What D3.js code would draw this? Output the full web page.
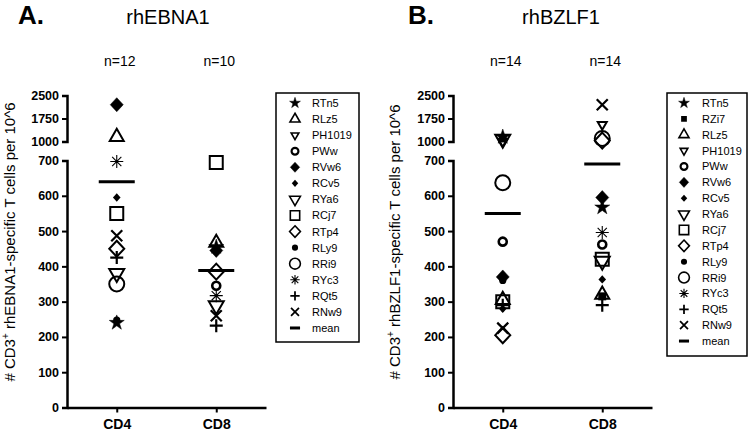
<!DOCTYPE html>
<html><head><meta charset="utf-8">
<script src="https://cdn.jsdelivr.net/npm/d3@7"></script>
<style>body{margin:0;background:#fff}svg{display:block;font-family:Arial,"Liberation Sans",sans-serif}</style>
</head><body><svg id="c" width="750" height="432"></svg>
<script>
// ---------- data ----------
const categories = ["CD4", "CD8"];
const subjectsA = ["RTn5","RLz5","PH1019","PWw","RVw6","RCv5","RYa6","RCj7","RTp4","RLy9","RRi9","RYc3","RQt5","RNw9"];
const subjectsB = ["RTn5","RZi7","RLz5","PH1019","PWw","RVw6","RCv5","RYa6","RCj7","RTp4","RLy9","RRi9","RYc3","RQt5","RNw9"];
// rhEBNA1 (aligned with subjectsA)
const ebnaCD4 = [240, 1150, null, null, 2200, 595, 380, 550, 450, 248, 350, 697, 425, 487];
const ebnaCD8 = [455, 467, null, 345, 445, null, 289, 694, 385, null, null, 317, 232, 260];
const ebnaMean = [640, 388];
const ebnaN = ["n=12", "n=10"];
// rhBZLF1 (aligned with subjectsB)
const bzlfCD4 = [1150, 1100, 305, 1000, 470, 370, 280, 1080, 300, 205, 360, 637, null, 290, 225];
const bzlfCD8 = [567, 315, 320, 1550, 462, 595, 363, 415, 420, 1030, null, 1100, 496, 290, 2200];
const bzlfMean = [550, 690];
const bzlfN = ["n=14", "n=14"];
const lowTicks = [0, 100, 200, 300, 400, 500, 600, 700];
const highTicks = [1000, 1750, 2500];

// ---------- symbols ----------
function symbol(g, name, k) {
  const sw = 2 * Math.max(k, 0.8);
  const p = g.append("path").attr("stroke", "#000").attr("stroke-linejoin", "miter");
  let d = "", fill = "none", stroke = sw;
  const tri = (s, up) => { const h = s * Math.sqrt(3) / 2; return up ? `M0,${-h*2/3}L${s/2},${h/3}L${-s/2},${h/3}Z` : `M0,${h*2/3}L${s/2},${-h/3}L${-s/2},${-h/3}Z`; };
  const dia = (w, h) => `M0,${-h}L${w},0L0,${h}L${-w},0Z`;
  switch (name) {
    case "RTn5": d = d3.symbol(d3.symbolStar, 70 * k * k)(); fill = "#000"; stroke = 0.5; break;
    case "RZi7": d = d3.symbol(d3.symbolSquare, 64 * k * k)(); fill = "#000"; stroke = 0; break;
    case "RLz5": d = tri(14 * k, true); break;
    case "PH1019": d = tri(9 * Math.max(k, 0.85), false); break;
    case "PWw": d = d3.arc()({innerRadius: 0, outerRadius: 4 * Math.max(k, 0.85), startAngle: 0, endAngle: 2 * Math.PI}); stroke = 2.6 * Math.max(k, 0.85); break;
    case "RVw6": d = dia(6.5 * k, 7 * k); fill = "#000"; stroke = 0.5; break;
    case "RCv5": d = dia(3.8 * Math.max(k, 0.85), 4.2 * Math.max(k, 0.85)); fill = "#000"; stroke = 0; break;
    case "RYa6": d = tri(15 * k, false); break;
    case "RCj7": d = `M${-6.5*k},${-6.5*k}h${13*k}v${13*k}h${-13*k}Z`; break;
    case "RTp4": d = dia(7.5 * k, 8 * k); break;
    case "RLy9": d = d3.arc()({innerRadius: 0, outerRadius: 3.6 * Math.max(k, 0.85), startAngle: 0, endAngle: 2 * Math.PI}); fill = "#000"; stroke = 0; break;
    case "RRi9": d = d3.arc()({innerRadius: 0, outerRadius: 7.5 * k, startAngle: 0, endAngle: 2 * Math.PI}); break;
    case "RYc3": { const r = 6.5 * k; d = ""; for (let i = 0; i < 4; i++) { const a = i * Math.PI / 4; d += `M${-r*Math.cos(a)},${-r*Math.sin(a)}L${r*Math.cos(a)},${r*Math.sin(a)}`; } stroke = 1.1; break; }
    case "RQt5": { const r = 6.5 * k; d = `M${-r},0H${r}M0,${-r}V${r}`; stroke = 2.2 * Math.max(k, 0.8); break; }
    case "RNw9": { const r = 5.5 * k; d = `M${-r},${-r}L${r},${r}M${-r},${r}L${r},${-r}`; stroke = 2.2 * Math.max(k, 0.8); break; }
    case "mean": d = `M${-7*k},0H${7*k}`; stroke = 3; break;
  }
  p.attr("d", d).attr("fill", fill).attr("stroke-width", stroke);
  if (stroke === 0) p.attr("stroke", "none");
  return p;
}

const svg = d3.select("#c");

function panel(opt) {
  const g = svg.append("g");
  const ax = opt.axisX;
  const yLow = d3.scaleLinear().domain([0, 700]).range([407.5, 160.5]);
  const yHigh = d3.scaleLinear().domain([1000, 2500]).range([141.5, 95.5]);
  const y = v => v >= 1000 ? yHigh(v) : yLow(Math.min(v, 700));
  const x = d3.scalePoint().domain(categories).range([ax, ax + 199]).padding(0.5);

  // panel letter + title
  g.append("text").attr("x", opt.letterX).attr("y", 24).attr("font-size", 26).attr("font-weight", "bold").text(opt.letter);
  g.append("text").attr("x", opt.titleX).attr("y", 24).attr("font-size", 20).attr("text-anchor", "middle").text(opt.title);
  // n labels
  categories.forEach((c, i) => g.append("text").attr("x", x(c) + 3).attr("y", 66).attr("font-size", 14).attr("text-anchor", "middle").text(opt.n[i]));

  // axes
  const fmt = d3.format("d");
  const styleAxis = sel => {
    sel.select(".domain").attr("stroke-width", 2.5);
    sel.selectAll(".tick line").attr("stroke-width", 2);
    sel.selectAll(".tick text").attr("font-size", 12.5).attr("font-weight", "bold").attr("font-family", "Arial,'Liberation Sans',sans-serif").attr("fill", "#000");
  };
  g.append("g").attr("transform", `translate(${ax},0)`).call(d3.axisLeft(yHigh).tickValues(highTicks).tickFormat(fmt).tickSize(5).tickSizeOuter(5).tickPadding(3)).call(styleAxis);
  g.append("g").attr("transform", `translate(${ax},0)`).call(d3.axisLeft(yLow).tickValues(lowTicks).tickFormat(fmt).tickSize(5).tickSizeOuter(5).tickPadding(3)).call(styleAxis);
  const xa = g.append("g").attr("transform", `translate(0,407.5)`).call(d3.axisBottom(x).tickSize(5).tickSizeOuter(0).tickPadding(7));
  xa.select(".domain").attr("stroke-width", 2.5);
  xa.selectAll(".tick line").attr("stroke-width", 2);
  xa.selectAll(".tick text").attr("font-size", 14).attr("font-weight", "bold").attr("font-family", "Arial,'Liberation Sans',sans-serif").attr("fill", "#000");

  // y label
  const yl = g.append("text").attr("transform", `translate(${opt.ylabX},${242}) rotate(-90)`).attr("text-anchor", "middle").attr("font-size", 15);
  yl.append("tspan").text("# CD3");
  yl.append("tspan").attr("font-size", 10).attr("dy", -6).text("+");
  yl.append("tspan").attr("dy", 6).text(" " + opt.ylab);

  // points
  [opt.cd4, opt.cd8].forEach((vals, ci) => {
    const cx = x(categories[ci]);
    vals.forEach((v, i) => {
      if (v == null) return;
      const sg = g.append("g").attr("transform", `translate(${cx},${y(v)})`);
      symbol(sg, opt.subjects[i], 1);
    });
    g.append("line").attr("x1", cx - 18).attr("x2", cx + 18).attr("y1", yLow(opt.mean[ci])).attr("y2", yLow(opt.mean[ci])).attr("stroke", "#000").attr("stroke-width", 3);
  });

  // legend
  const L = opt.legend;
  const items = opt.subjects.concat(["mean"]);
  g.append("rect").attr("x", L.x0).attr("y", L.y0).attr("width", L.x1 - L.x0).attr("height", L.y1 - L.y0).attr("fill", "#fff").attr("stroke", "#000").attr("stroke-width", 1.5);
  items.forEach((name, i) => {
    const yy = L.first + i * L.step;
    const sg = g.append("g").attr("transform", `translate(${L.sx},${yy})`);
    symbol(sg, name, 0.72);
    g.append("text").attr("x", L.tx).attr("y", yy + 4).attr("font-size", 11).text(name);
  });
}

panel({axisX: 67, letter: "A.", letterX: 18, title: "rhEBNA1", titleX: 168, n: ebnaN,
  ylab: "rhEBNA1-specific T cells per 10^6", ylabX: 15,
  subjects: subjectsA, cd4: ebnaCD4, cd8: ebnaCD8, mean: ebnaMean,
  legend: {x0: 276, x1: 359, y0: 93, y1: 342, first: 103, step: 16.07, sx: 295, tx: 312}});
panel({axisX: 453, letter: "B.", letterX: 408, title: "rhBZLF1", titleX: 561, n: bzlfN,
  ylab: "rhBZLF1-specific T cells per 10^6", ylabX: 400,
  subjects: subjectsB, cd4: bzlfCD4, cd8: bzlfCD8, mean: bzlfMean,
  legend: {x0: 667, x1: 747, y0: 93, y1: 356, first: 103, step: 15.87, sx: 684, tx: 702}});
</script></body></html>
